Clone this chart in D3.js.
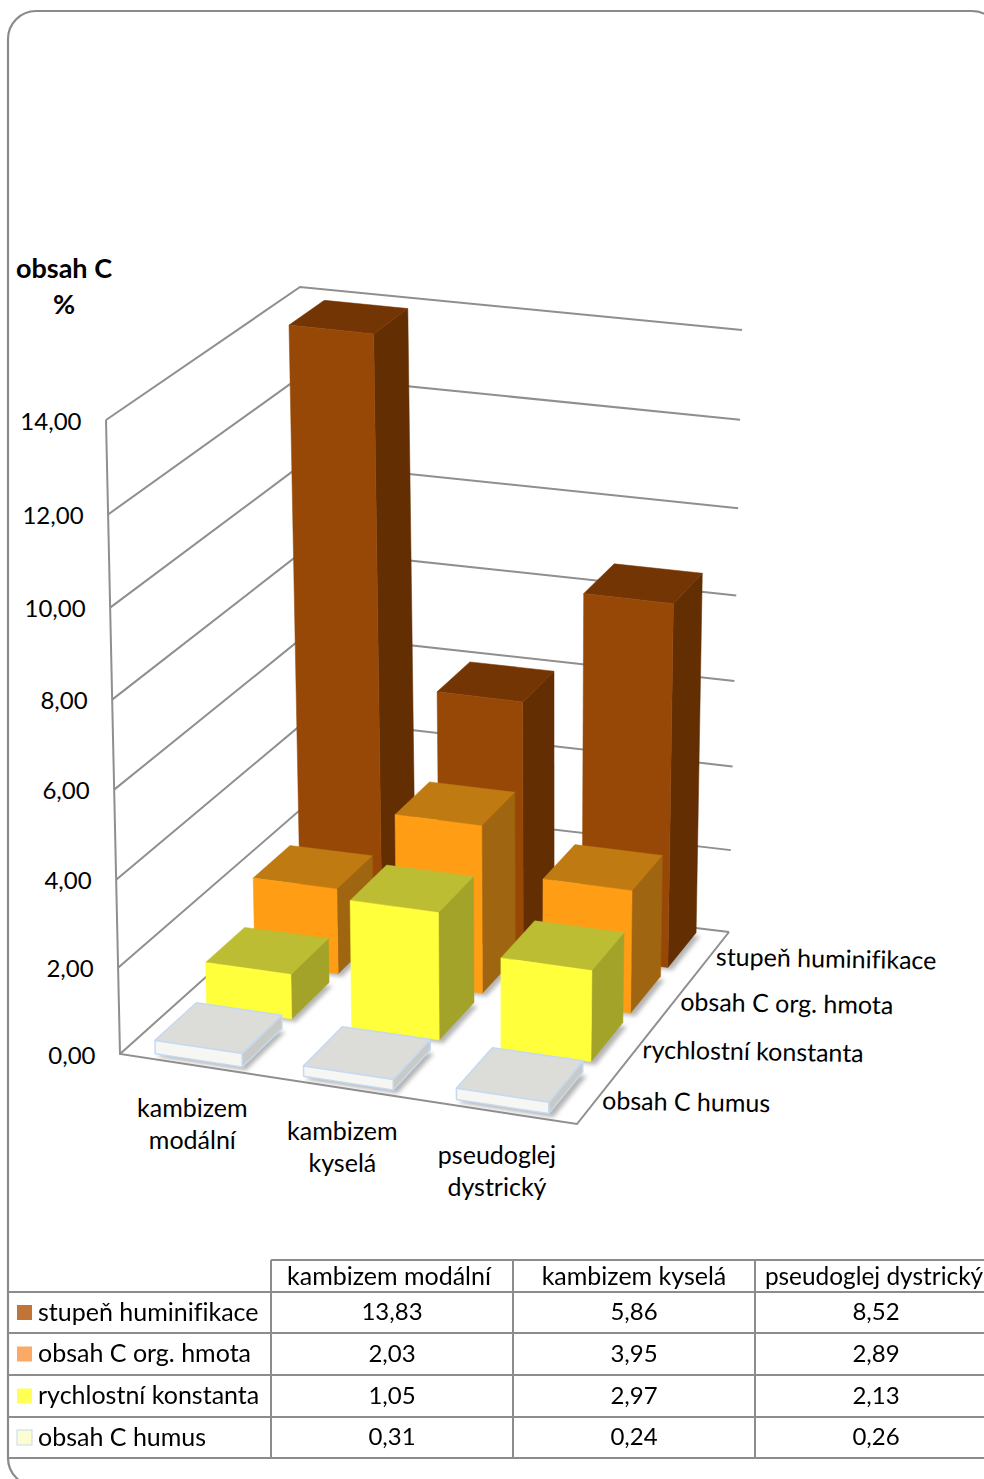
<!DOCTYPE html>
<html><head><meta charset="utf-8">
<script src="https://cdn.jsdelivr.net/npm/d3@7"></script>
<style>
html,body{margin:0;padding:0;background:#fff;overflow:hidden}
text{font-family:Lato,"Open Sans",sans-serif;fill:#000;font-variant-ligatures:none}
</style></head><body><svg id="chart" width="984" height="1479"></svg>
<script>
// Chart values
const categories = ["kambizem modální", "kambizem kyselá", "pseudoglej dystrický"];
const categoryLines = [["kambizem","modální"],["kambizem","kyselá"],["pseudoglej","dystrický"]];
const seriesNames = ["stupeň huminifikace", "obsah C org. hmota", "rychlostní konstanta", "obsah C humus"];
const huminifikace = [13.83, 5.86, 8.52];
const orgHmota = [2.03, 3.95, 2.89];
const rychlost = [1.05, 2.97, 2.13];
const humus = [0.31, 0.24, 0.26];
const tickValues = [0, 2, 4, 6, 8, 10, 12, 14];
const fmt = v => v.toFixed(2).replace(".", ",");

const seriesValues = [huminifikace, orgHmota, rychlost, humus];
const faces = [
  {front:"#974806", top:"#743505", side:"#622e02", swatch:"#c07435"},
  {front:"#ff9d14", top:"#c07a12", side:"#a06510", swatch:"#fbaa66"},
  {front:"#ffff3c", top:"#bdbd33", side:"#a3a32a", swatch:"#ffff55"},
  {front:"#f6f7f2", top:"#dcddd8", side:"#c9cac5", swatch:"#fdfdd2", edge:"#c6d9f1"}
];

const svg = d3.select("#chart");
const defs = svg.append("defs");
defs.append("filter").attr("id","soft").attr("x","-20%").attr("y","-20%").attr("width","140%").attr("height","140%")
  .append("feGaussianBlur").attr("stdDeviation",2.2);

// Rounded outer frame (runs past the right and bottom edges of the page)
svg.append("rect").attr("x",8).attr("y",11).attr("width",992).attr("height",1475).attr("rx",28)
  .attr("fill","#fff").attr("stroke","#8a8a8a").attr("stroke-width",2.2);

// Perspective: unit square -> quadrilateral
function quad(p) {
  const [[x0,y0],[x1,y1],[x2,y2],[x3,y3]] = p;
  const dx1=x1-x2, dx2=x3-x2, sx=x0-x1+x2-x3, dy1=y1-y2, dy2=y3-y2, sy=y0-y1+y2-y3;
  const den=dx1*dy2-dx2*dy1, g=(sx*dy2-dx2*sy)/den, h=(dx1*sy-sx*dy1)/den;
  const a=x1-x0+g*x1, b=x3-x0+h*x3, d=y1-y0+g*y1, e=y3-y0+h*y3;
  return (u,w)=>{ const q=g*u+h*w+1; return [(a*u+b*w+x0)/q,(d*u+e*w+y0)/q]; };
}
const floorPlane = quad([[120,1054],[577,1124],[729,932],[312,882]]);
const topPlane   = quad([[106,420],[584,483],[742,330],[300,287]]);
// Height along a vertical edge is slightly non-linear under perspective
const level = d3.scaleLinear().domain(tickValues).range([0,.136,.275,.417,.559,.704,.851,1]);
// Evens out the foreshortening across the width of the floor
const lateral = u => u + .03*u*(1-u);
function project(u,w,v){
  const lu=lateral(u), a=floorPlane(lu,w), b=topPlane(lu,w), t=level(v);
  return [a[0]+(b[0]-a[0])*t, a[1]+(b[1]-a[1])*t];
}
const uBand = d3.scaleBand().domain(d3.range(categories.length)).range([0,1]).paddingInner(.41).paddingOuter(.205);
const wBand = d3.scaleBand().domain(d3.range(seriesNames.length)).range([1,0]).paddingInner(.2).paddingOuter(.1);
const poly = pts => "M"+pts.map(p=>p.map(n=>n.toFixed(1)).join(",")).join("L")+"Z";
const lineColor="#8f8f8f";

// Walls and floor
const walls = svg.append("g").attr("fill","none").attr("stroke",lineColor).attr("stroke-width",2);
tickValues.forEach(v=>{
  walls.append("path").attr("d","M"+[project(0,0,v),project(0,1,v),project(1,1,v)].map(p=>p.join(",")).join("L"));
});
walls.append("path").attr("d","M"+[project(0,0,14),project(0,0,0),project(1,0,0),project(1,1,0)].map(p=>p.join(",")).join("L"));

// Value axis labels
svg.append("g").selectAll("text").data(tickValues).join("text")
  .attr("x",v=>project(0,0,v)[0]-24.5).attr("y",v=>project(0,0,v)[1]+1).attr("dy",".36em")
  .attr("text-anchor","end").attr("font-size",24).text(fmt);
svg.append("text").attr("x",64).attr("y",268).attr("dy",".36em").attr("text-anchor","middle").attr("font-size",27).attr("font-weight",700).text("obsah C");
svg.append("text").attr("x",64).attr("y",304).attr("dy",".36em").attr("text-anchor","middle").attr("font-size",27).attr("font-weight",700).text("%");

// Category labels along the front floor edge
const catG = svg.append("g").selectAll("g").data(categoryLines).join("g")
  .attr("transform",(d,i)=>{const p=project(uBand(i)+uBand.bandwidth()/2,0,0);return `translate(${p[0]-1},${p[1]+23})`;});
catG.selectAll("text").data(d=>d).join("text").attr("y",(d,i)=>i*32+20).attr("dy",".36em").attr("text-anchor","middle").attr("font-size",25).text(d=>d);

// Series labels along the right floor edge, tilted slightly with the floor
svg.append("g").selectAll("text").data(seriesNames).join("text")
  .attr("transform",(d,i)=>{const p=project(1,wBand(i)+wBand.bandwidth()/2,0);return `translate(${p[0]+4},${p[1]+3}) rotate(1)`;})
  .attr("dy",".36em").attr("font-size",25).text(d=>d);

// Bars: shadows first, then back row to front row
const bars=[];
seriesValues.forEach((vals,s)=>vals.forEach((val,c)=>bars.push({s,c,val})));
const corners=b=>{const u0=uBand(b.c),u1=u0+uBand.bandwidth(),w1=wBand(b.s)+wBand.bandwidth(),w0=wBand(b.s);return {u0,u1,w0,w1};};
svg.append("g").attr("filter","url(#soft)").selectAll("path").data(bars).join("path")
  .attr("fill","#777").attr("opacity",.55)
  .attr("d",b=>{const {u0,u1,w0,w1}=corners(b);const du=.014,dw=.012;
    return poly([[u0+.01,w0-dw],[u1+du,w0-dw],[u1+du,w1-.015],[u1,w1-.015],[u0+.01,w0]].map(q=>project(q[0],q[1],0)));});
const barG = svg.append("g").selectAll("g").data(bars).join("g");
barG.each(function(b){
  const {u0,u1,w0,w1}=corners(b), f=faces[b.s], g=d3.select(this), v=b.val;
  const face=(pts,fill)=>g.append("path").attr("d",poly(pts)).attr("fill",fill)
    .attr("stroke",f.edge||fill).attr("stroke-width",f.edge?1.5:.5).attr("stroke-linejoin","round");
  face([project(u1,w0,0),project(u1,w1,0),project(u1,w1,v),project(u1,w0,v)],f.side);
  face([project(u0,w0,v),project(u1,w0,v),project(u1,w1,v),project(u0,w1,v)],f.top);
  face([project(u0,w0,0),project(u1,w0,0),project(u1,w0,v),project(u0,w0,v)],f.front);
});

// Data table
const colX=[271,513,755,997], rowY=[1260,1292,1333,1375,1417,1458];
const tbl=svg.append("g");
const rule=(x1,y1,x2,y2)=>tbl.append("line").attr("x1",x1).attr("y1",y1).attr("x2",x2).attr("y2",y2).attr("stroke","#8c8c8c").attr("stroke-width",2);
rowY.forEach((y,i)=>rule(i?8:271,y,984,y));
colX.forEach(x=>rule(x,1260,x,1458));
// The last header sits against the page edge, so it is set a touch smaller to stay whole
tbl.selectAll(".h").data(categories).join("text").attr("class","h")
  .attr("x",(d,i)=>(colX[i]+colX[i+1])/2+[-3,0,-2][i]).attr("y",1276).attr("dy",".36em").attr("text-anchor","middle")
  .attr("font-size",(d,i)=>i===2?24.4:25).text(d=>d);
seriesNames.forEach((name,r)=>{
  const cy=(rowY[r+1]+rowY[r+2])/2;
  tbl.append("rect").attr("x",17).attr("y",cy-7.5).attr("width",15).attr("height",15)
    .attr("fill",faces[r].swatch).attr("stroke",faces[r].edge||"none");
  tbl.append("text").attr("x",38).attr("y",cy-1).attr("dy",".36em").attr("font-size",25).text(name);
  seriesValues[r].forEach((v,c)=>tbl.append("text").attr("x",(colX[c]+colX[c+1])/2).attr("y",cy-1).attr("dy",".36em")
    .attr("text-anchor","middle").attr("font-size",24).text(fmt(v)));
});
</script></body></html>
